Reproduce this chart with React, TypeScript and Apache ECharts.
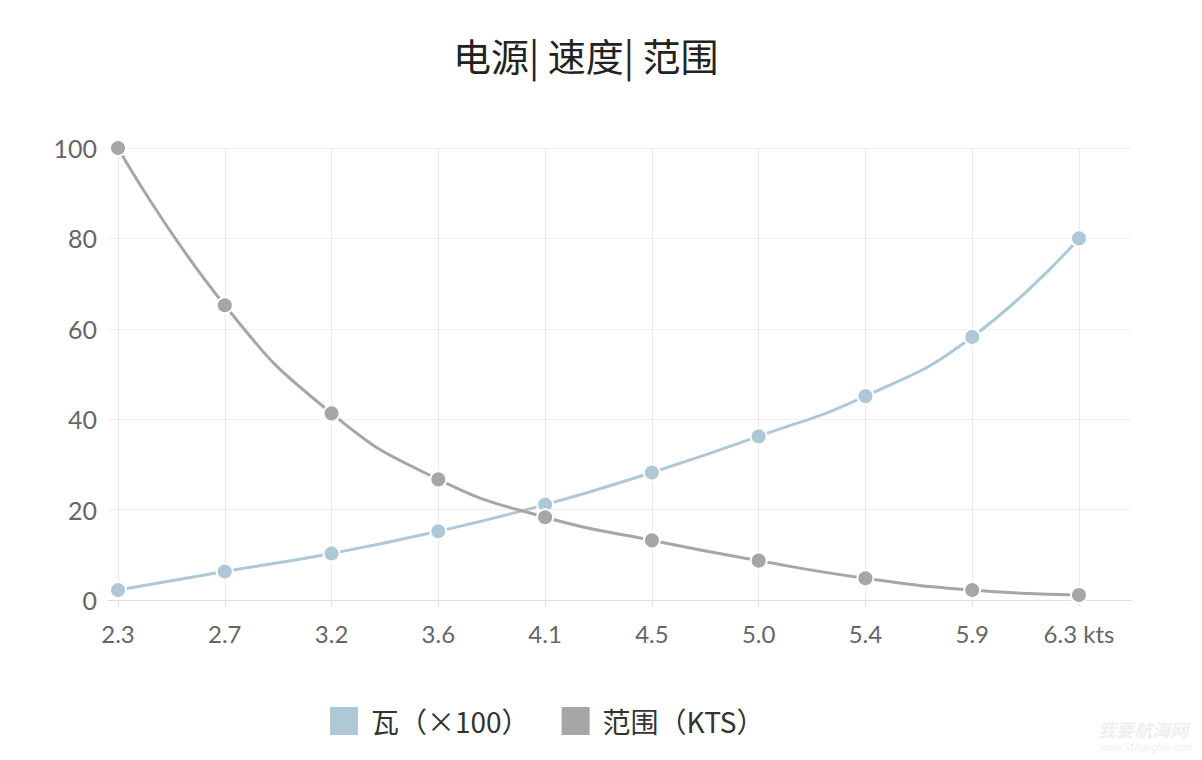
import React, { useEffect, useRef } from "react";
import * as echarts from "echarts";

const categories = ["2.3", "2.7", "3.2", "3.6", "4.1", "4.5", "5.0", "5.4", "5.9", "6.3 kts"];
const wattValues = [2.2, 6.3, 10.3, 15.2, 21.1, 28.2, 36.2, 45.1, 58.2, 80];
const rangeValues = [100, 65.2, 41.3, 26.7, 18.3, 13.2, 8.7, 4.8, 2.2, 1.1];
const yTicks = { min: 0, max: 100, interval: 20 };
const titleText = "电源| 速度| 范围";
const seriesNames = ["瓦（×100）", "范围（KTS）"];

const FONT = "Lato, 'Noto Sans', 'Noto Sans CJK SC', sans-serif";

export default function App() {
  const ref = useRef<HTMLDivElement>(null);
  useEffect(() => {
    if (!ref.current) return;
    const chart = echarts.init(ref.current, null, { renderer: "svg" });
    chart.setOption({
      animation: false,
      backgroundColor: "#ffffff",
      textStyle: { fontFamily: FONT },
      title: {
        text: titleText,
        left: 448,
        top: 30,
        textStyle: {
          fontSize: 38,
          fontWeight: "normal",
          color: "#222",
          fontFamily: "'Noto Sans CJK SC', sans-serif",
        },
      },
      legend: {
        bottom: 18,
        left: 323,
        icon: "rect",
        itemWidth: 30,
        itemHeight: 30,
        itemGap: 30,
        textStyle: { fontSize: 28, color: "#333", fontFamily: "'Noto Sans CJK SC', sans-serif", padding: [0, 0, 0, 7] },
        data: seriesNames,
      },
      grid: [
        { left: 118, right: 123, top: 148, bottom: 160 },
        { left: 108, right: 71, top: 148, bottom: 160 },
      ],
      xAxis: [
        {
          type: "category",
          gridIndex: 0,
          data: categories,
          boundaryGap: false,
          axisLine: { show: false },
          axisTick: { show: true, length: 7, lineStyle: { color: "#e6e6e6" } },
          splitLine: { show: true, lineStyle: { color: "#e9e9e9", width: 1 } },
          axisLabel: { color: "#666", fontSize: 24, margin: 21, fontFamily: FONT },
          z: 1,
        },
        {
          type: "value",
          gridIndex: 1,
          min: 0,
          max: 1,
          axisLine: { show: true, lineStyle: { color: "#dcdcdc", width: 1 } },
          axisTick: { show: false },
          axisLabel: { show: false },
          splitLine: { show: false },
        },
      ],
      yAxis: [
        {
          type: "value",
          gridIndex: 0,
          min: yTicks.min,
          max: yTicks.max,
          interval: yTicks.interval,
          axisLabel: { show: false },
          axisLine: { show: false },
          axisTick: { show: false },
          splitLine: { show: false },
        },
        {
          type: "value",
          gridIndex: 1,
          min: yTicks.min,
          max: yTicks.max,
          interval: yTicks.interval,
          axisLabel: { color: "#666", fontSize: 25, margin: 11, fontFamily: FONT },
          axisLine: { show: false },
          axisTick: { show: false },
          splitLine: { show: true, lineStyle: { color: "#f0f0f0", width: 1 } },
        },
      ],
      series: [
        {
          name: seriesNames[0],
          type: "line",
          xAxisIndex: 0,
          yAxisIndex: 0,
          data: wattValues,
          smooth: true,
          symbol: "circle",
          symbolSize: 16,
          lineStyle: { color: "#aec8d8", width: 3 },
          itemStyle: { color: "#aec8d8", borderColor: "#ffffff", borderWidth: 2 },
          z: 3,
        },
        {
          name: seriesNames[1],
          type: "line",
          xAxisIndex: 0,
          yAxisIndex: 0,
          data: rangeValues,
          smooth: true,
          symbol: "circle",
          symbolSize: 16,
          lineStyle: { color: "#a6a6a6", width: 3 },
          itemStyle: { color: "#a6a6a6", borderColor: "#ffffff", borderWidth: 2 },
          z: 4,
        },
      ],
      graphic: [
        {
          type: "text",
          right: 14,
          bottom: 22,
          style: {
            text: "我要航海网",
            fill: "#efefef",
            font: "italic bold 18px 'Noto Sans CJK SC', sans-serif",
          },
        },
        {
          type: "text",
          right: 10,
          bottom: 8,
          style: {
            text: "www.51hanghai.com",
            fill: "#efefef",
            font: "italic 10px sans-serif",
          },
        },
      ],
    });
    return () => chart.dispose();
  }, []);
  return <div ref={ref} style={{ position: "absolute", left: 0, top: 0, width: 1202, height: 760 }} />;
}
